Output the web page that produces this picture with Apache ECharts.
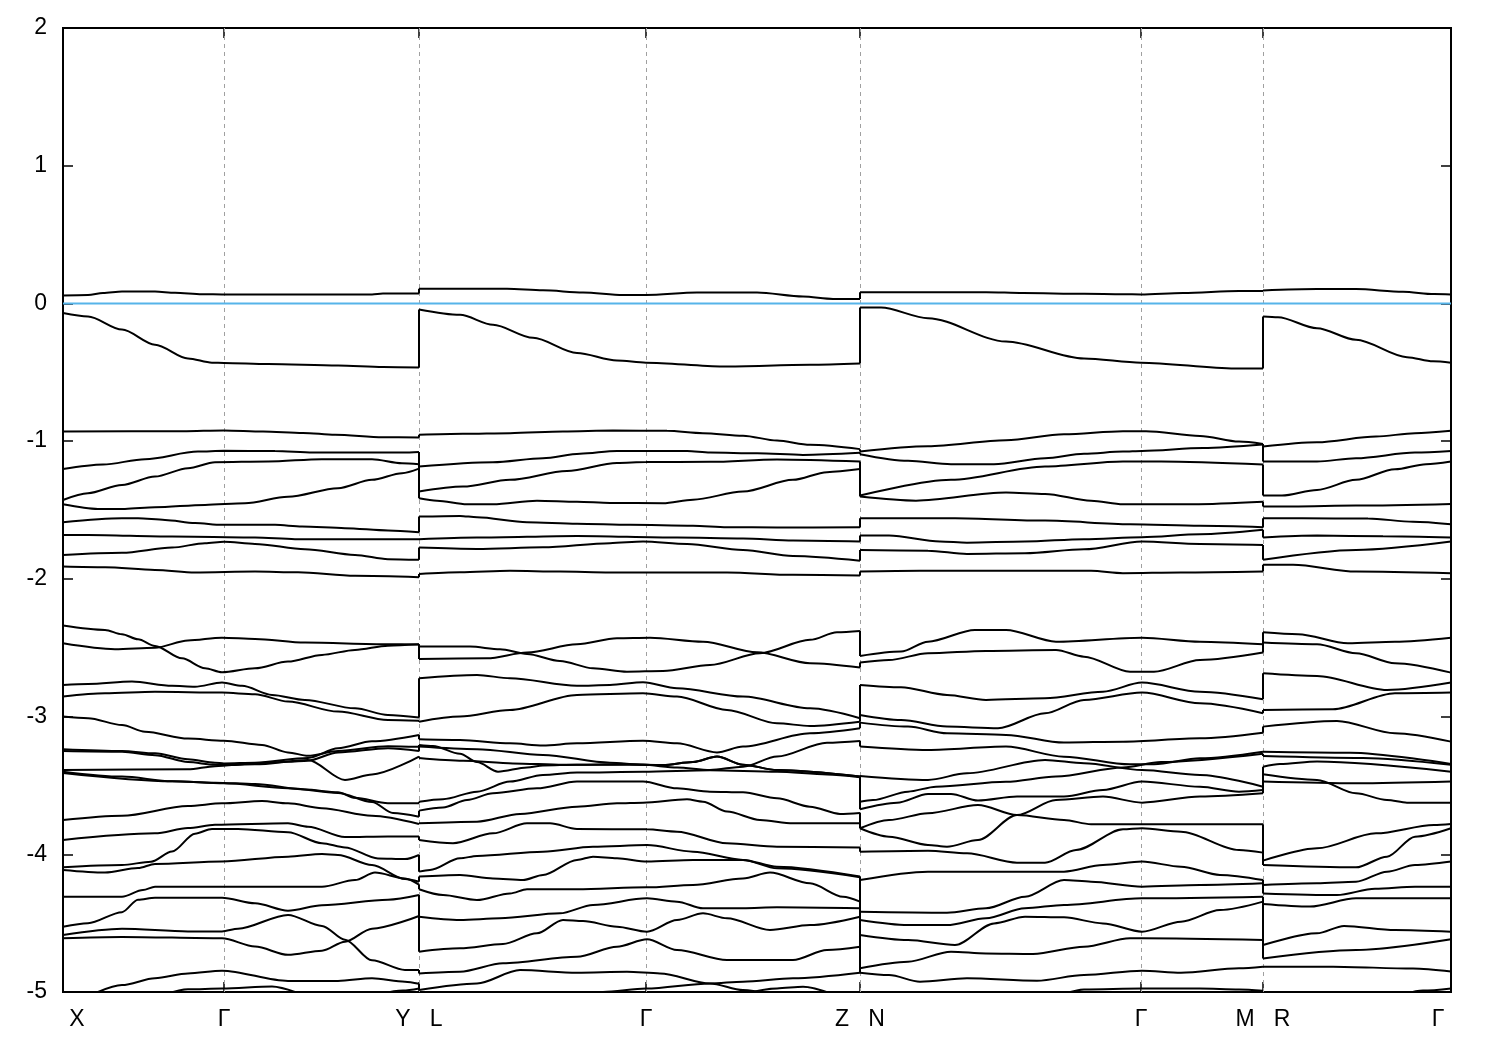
<!DOCTYPE html>
<html>
<head>
<meta charset="utf-8">
<script src="https://cdn.jsdelivr.net/npm/echarts@6/dist/echarts.min.js"></script>
<style>html,body{margin:0;padding:0;background:#fff;}#c{width:1500px;height:1050px;}</style>
</head>
<body>
<div id="c"></div>
<script>
// k-path positions of the high-symmetry points and their labels
const kTicks = [0, 161, 356, 583, 797, 1078, 1200, 1388];
const kLabels = ['X', 'Γ', 'Y   L', 'Γ', 'Z   N', 'Γ', 'M   R', 'Γ'];
const kGridLines = [161, 356, 583, 797, 1078, 1200];
const fermiLine = [[0, 0], [1388, 0]];
const energyTicks = {min: -5, max: 2, step: 1};

// Segment X-Γ-Y : each curve is a list of [k, E(eV)]
const segXGY = [
  [[0,0.058],[25,0.062],[40,0.075],[59,0.086],[92,0.086],[112,0.078],[139,0.067],[161,0.065],[309,0.065],[320,0.072],[356,0.072]],
  [[0,-0.07],[25,-0.095],[59,-0.19],[92,-0.30],[125,-0.40],[149,-0.43],[161,-0.432],[205,-0.44],[275,-0.45],[320,-0.462],[356,-0.466]],
  [[0,-0.93],[120,-0.928],[161,-0.922],[200,-0.93],[240,-0.94],[272,-0.954],[320,-0.972],[356,-0.974]],
  [[0,-1.203],[40,-1.17],[82,-1.131],[135,-1.076],[161,-1.07],[212,-1.072],[250,-1.083],[340,-1.083],[356,-1.078]],
  [[0,-1.427],[25,-1.378],[59,-1.318],[92,-1.257],[125,-1.196],[152,-1.153],[205,-1.148],[259,-1.131],[309,-1.131],[339,-1.16],[356,-1.167]],
  [[0,-1.458],[35,-1.492],[62,-1.492],[92,-1.48],[142,-1.463],[182,-1.451],[225,-1.404],[275,-1.342],[309,-1.281],[339,-1.233],[356,-1.2]],
  [[0,-1.589],[59,-1.56],[75,-1.56],[102,-1.572],[132,-1.594],[159,-1.608],[212,-1.608],[239,-1.62],[282,-1.632],[325,-1.649],[356,-1.661]],
  [[0,-1.681],[25,-1.681],[109,-1.693],[192,-1.70],[232,-1.712],[356,-1.712]],
  [[0,-1.826],[59,-1.81],[109,-1.773],[142,-1.741],[161,-1.73],[192,-1.746],[242,-1.785],[292,-1.826],[325,-1.857],[356,-1.862]],
  [[0,-1.911],[42,-1.916],[92,-1.935],[132,-1.954],[192,-1.947],[235,-1.952],[292,-1.978],[356,-1.988]],
  [[0,-2.339],[42,-2.371],[59,-2.402],[75,-2.439],[92,-2.487],[119,-2.577],[142,-2.649],[159,-2.678],[192,-2.649],[225,-2.601],[259,-2.552],[292,-2.516],[325,-2.485],[356,-2.475]],
  [[0,-2.468],[52,-2.511],[92,-2.50],[125,-2.448],[159,-2.427],[192,-2.436],[242,-2.463],[325,-2.475],[356,-2.476]],
  [[0,-2.770],[25,-2.763],[69,-2.746],[109,-2.777],[132,-2.783],[159,-2.753],[179,-2.777],[209,-2.843],[242,-2.879],[292,-2.94],[325,-2.988],[356,-3.007]],
  [[0,-2.855],[42,-2.831],[92,-2.819],[159,-2.826],[192,-2.838],[225,-2.891],[275,-2.964],[325,-3.025],[356,-3.03]],
  [[0,-3.0],[25,-3.012],[59,-3.061],[82,-3.11],[125,-3.16],[161,-3.175],[199,-3.206],[225,-3.26],[245,-3.285],[275,-3.25],[325,-3.215],[356,-3.22]],
  [[0,-3.237],[59,-3.25],[92,-3.267],[125,-3.31],[152,-3.335],[161,-3.34],[192,-3.335],[245,-3.30],[275,-3.23],[309,-3.18],[356,-3.134]],
  [[0,-3.25],[59,-3.255],[92,-3.28],[125,-3.33],[152,-3.35],[161,-3.352],[192,-3.347],[245,-3.315],[282,-3.46],[309,-3.42],[356,-3.29]],
  [[0,-3.388],[125,-3.383],[152,-3.36],[192,-3.34],[225,-3.328],[245,-3.32],[275,-3.26],[325,-3.23],[356,-3.25]],
  [[0,-3.40],[59,-3.436],[109,-3.47],[152,-3.48],[192,-3.49],[242,-3.53],[275,-3.55],[292,-3.59],[325,-3.63],[356,-3.63]],
  [[0,-3.41],[109,-3.47],[161,-3.485],[225,-3.52],[275,-3.555],[309,-3.62],[330,-3.70],[356,-3.727]],
  [[0,-3.751],[59,-3.72],[125,-3.65],[159,-3.63],[199,-3.613],[225,-3.63],[259,-3.665],[309,-3.72],[356,-3.78]],
  [[0,-3.896],[92,-3.848],[125,-3.81],[152,-3.785],[225,-3.775],[245,-3.80],[282,-3.875],[325,-3.87],[356,-3.87]],
  [[0,-4.094],[59,-4.078],[88,-4.054],[109,-3.98],[132,-3.85],[149,-3.816],[175,-3.816],[225,-3.84],[259,-3.92],[282,-3.95],[315,-4.03],[342,-4.035],[356,-4.005]],
  [[0,-4.114],[42,-4.133],[75,-4.10],[92,-4.07],[159,-4.053],[225,-4.017],[259,-3.998],[275,-4.005],[309,-4.078],[342,-4.18],[356,-4.20]],
  [[0,-4.308],[59,-4.308],[80,-4.26],[92,-4.235],[159,-4.235],[259,-4.235],[292,-4.187],[312,-4.133],[342,-4.175],[356,-4.22]],
  [[0,-4.526],[25,-4.50],[59,-4.42],[75,-4.33],[92,-4.315],[159,-4.315],[192,-4.356],[225,-4.41],[259,-4.37],[325,-4.33],[356,-4.296]],
  [[0,-4.586],[59,-4.54],[125,-4.56],[159,-4.56],[175,-4.54],[225,-4.44],[259,-4.52],[282,-4.62],[309,-4.77],[342,-4.84],[356,-4.84]],
  [[0,-4.61],[59,-4.60],[159,-4.61],[192,-4.67],[225,-4.73],[259,-4.70],[282,-4.635],[309,-4.54],[356,-4.448]],
  [[20,-5.05],[59,-4.95],[92,-4.90],[125,-4.865],[159,-4.845],[225,-4.92],[275,-4.92],[309,-4.90],[342,-4.925],[356,-4.94]],
  [[90,-5.05],[125,-4.98],[159,-4.975],[209,-4.96],[250,-5.05]],
  [[300,-5.05],[340,-4.99],[356,-4.975]]
];

// Segment L-Γ-Z
const segLGZ = [
  [[356,0.106],[444,0.106],[480,0.095],[520,0.08],[560,0.062],[583,0.062],[634,0.079],[694,0.079],[740,0.05],[770,0.033],[797,0.033]],
  [[356,-0.044],[397,-0.083],[430,-0.155],[470,-0.25],[514,-0.36],[554,-0.415],[583,-0.43],[660,-0.458],[747,-0.446],[797,-0.437]],
  [[356,-0.954],[400,-0.947],[447,-0.942],[500,-0.93],[550,-0.923],[604,-0.925],[640,-0.942],[680,-0.96],[714,-0.996],[747,-1.027],[797,-1.058]],
  [[356,-1.184],[430,-1.153],[480,-1.124],[517,-1.092],[554,-1.071],[624,-1.071],[647,-1.083],[694,-1.088],[740,-1.10],[797,-1.085]],
  [[356,-1.366],[400,-1.33],[447,-1.281],[504,-1.217],[554,-1.158],[583,-1.152],[647,-1.15],[714,-1.133],[797,-1.148]],
  [[356,-1.414],[374,-1.432],[404,-1.458],[430,-1.458],[474,-1.432],[514,-1.44],[547,-1.449],[600,-1.451],[630,-1.425],[680,-1.366],[730,-1.281],[764,-1.225],[797,-1.203]],
  [[356,-1.548],[397,-1.543],[414,-1.553],[464,-1.589],[514,-1.60],[567,-1.608],[630,-1.615],[664,-1.625],[714,-1.627],[797,-1.625]],
  [[356,-1.712],[414,-1.70],[514,-1.688],[614,-1.70],[680,-1.707],[730,-1.722],[797,-1.729]],
  [[356,-1.773],[414,-1.783],[480,-1.771],[547,-1.741],[580,-1.729],[624,-1.746],[680,-1.79],[730,-1.834],[797,-1.868]],
  [[356,-1.964],[397,-1.952],[447,-1.942],[497,-1.947],[547,-1.954],[664,-1.954],[730,-1.971],[797,-1.976]],
  [[356,-2.492],[407,-2.492],[437,-2.511],[464,-2.545],[497,-2.596],[530,-2.649],[564,-2.674],[600,-2.669],[647,-2.625],[697,-2.54],[747,-2.443],[774,-2.388],[797,-2.378]],
  [[356,-2.582],[424,-2.577],[464,-2.535],[514,-2.475],[554,-2.431],[587,-2.427],[640,-2.456],[694,-2.533],[747,-2.613],[797,-2.644]],
  [[356,-2.722],[414,-2.698],[447,-2.722],[514,-2.777],[547,-2.77],[580,-2.751],[614,-2.795],[680,-2.855],[747,-2.94],[797,-3.012]],
  [[356,-3.037],[397,-3.0],[447,-2.952],[514,-2.843],[580,-2.831],[614,-2.855],[664,-2.952],[714,-3.049],[747,-3.068],[797,-3.037]],
  [[356,-3.165],[397,-3.17],[447,-3.194],[480,-3.21],[514,-3.194],[580,-3.175],[614,-3.194],[654,-3.26],[680,-3.218],[747,-3.121],[797,-3.085]],
  [[356,-3.206],[370,-3.213],[397,-3.27],[414,-3.33],[435,-3.40],[464,-3.37],[480,-3.355],[514,-3.35],[564,-3.346],[600,-3.352],[630,-3.33],[654,-3.29],[680,-3.35],[714,-3.388],[797,-3.436]],
  [[356,-3.218],[414,-3.237],[480,-3.279],[547,-3.335],[580,-3.35],[614,-3.37],[647,-3.388],[680,-3.364],[714,-3.29],[764,-3.19],[797,-3.177]],
  [[356,-3.30],[400,-3.32],[450,-3.34],[500,-3.35],[564,-3.348],[600,-3.352],[630,-3.33],[654,-3.29],[680,-3.35],[714,-3.388],[797,-3.436]],
  [[356,-3.618],[380,-3.60],[414,-3.545],[447,-3.472],[480,-3.424],[514,-3.407],[580,-3.40],[647,-3.39],[714,-3.40],[764,-3.42],[797,-3.44]],
  [[356,-3.683],[380,-3.66],[404,-3.606],[430,-3.557],[474,-3.521],[514,-3.472],[580,-3.472],[614,-3.521],[647,-3.545],[680,-3.55],[714,-3.594],[747,-3.654],[777,-3.707],[797,-3.70]],
  [[356,-3.775],[414,-3.763],[457,-3.707],[514,-3.654],[554,-3.63],[580,-3.625],[624,-3.601],[640,-3.618],[664,-3.69],[697,-3.751],[730,-3.775],[797,-3.775]],
  [[356,-3.896],[390,-3.92],[430,-3.848],[464,-3.775],[487,-3.775],[514,-3.816],[584,-3.819],[614,-3.836],[664,-3.92],[714,-3.945],[797,-3.95]],
  [[356,-4.126],[367,-4.114],[397,-4.029],[414,-4.012],[480,-3.981],[530,-3.945],[584,-3.933],[630,-3.981],[680,-4.041],[714,-4.09],[797,-4.162]],
  [[356,-4.162],[397,-4.15],[430,-4.175],[460,-4.187],[480,-4.15],[514,-4.041],[530,-4.017],[554,-4.029],[584,-4.053],[630,-4.041],[680,-4.041],[714,-4.102],[797,-4.167]],
  [[356,-4.254],[380,-4.296],[414,-4.332],[447,-4.284],[464,-4.254],[514,-4.254],[584,-4.24],[630,-4.223],[680,-4.175],[707,-4.133],[747,-4.211],[780,-4.308],[797,-4.344]],
  [[356,-4.453],[397,-4.477],[437,-4.465],[497,-4.429],[530,-4.368],[584,-4.32],[614,-4.344],[640,-4.392],[680,-4.392],[714,-4.385],[797,-4.392]],
  [[356,-4.707],[397,-4.683],[440,-4.652],[474,-4.574],[500,-4.477],[520,-4.485],[554,-4.526],[584,-4.562],[614,-4.477],[640,-4.429],[664,-4.465],[707,-4.55],[747,-4.514],[797,-4.453]],
  [[356,-4.865],[397,-4.853],[440,-4.792],[514,-4.744],[554,-4.671],[584,-4.617],[614,-4.695],[664,-4.768],[730,-4.768],[764,-4.695],[797,-4.671]],
  [[356,-4.986],[414,-4.938],[457,-4.841],[514,-4.86],[564,-4.853],[597,-4.865],[647,-4.938],[680,-4.986],[714,-5.03]],
  [[500,-5.03],[540,-5.0],[583,-4.975],[647,-4.938],[680,-4.925],[730,-4.90],[797,-4.86]],
  [[670,-5.03],[714,-4.974],[740,-4.962],[775,-5.03]]
];

// Segment N-Γ-M
const segNGM = [
  [[797,0.082],[923,0.082],[960,0.075],[1021,0.07],[1060,0.067],[1078,0.065],[1120,0.075],[1176,0.09],[1200,0.09]],
  [[797,-0.03],[818,-0.03],[865,-0.107],[943,-0.277],[1021,-0.40],[1078,-0.43],[1172,-0.473],[1200,-0.473]],
  [[797,-1.076],[865,-1.037],[943,-0.993],[1001,-0.95],[1060,-0.928],[1083,-0.928],[1137,-0.962],[1176,-1.003],[1200,-1.02]],
  [[797,-1.095],[845,-1.143],[888,-1.167],[931,-1.167],[982,-1.124],[1021,-1.092],[1060,-1.076],[1079,-1.071],[1140,-1.05],[1200,-1.025]],
  [[797,-1.395],[888,-1.281],[982,-1.184],[1060,-1.148],[1098,-1.148],[1200,-1.17]],
  [[797,-1.402],[853,-1.432],[943,-1.373],[982,-1.383],[1028,-1.432],[1060,-1.458],[1130,-1.458],[1200,-1.44]],
  [[797,-1.56],[892,-1.56],[982,-1.577],[1067,-1.603],[1137,-1.615],[1200,-1.625]],
  [[797,-1.686],[826,-1.686],[877,-1.729],[904,-1.737],[962,-1.729],[1021,-1.712],[1079,-1.697],[1137,-1.676],[1200,-1.644]],
  [[797,-1.79],[865,-1.795],[904,-1.819],[962,-1.814],[1021,-1.785],[1079,-1.729],[1137,-1.746],[1200,-1.754]],
  [[797,-1.947],[857,-1.942],[1028,-1.942],[1060,-1.959],[1118,-1.954],[1200,-1.947]],
  [[797,-2.56],[838,-2.528],[865,-2.456],[912,-2.371],[943,-2.371],[993,-2.456],[1079,-2.427],[1137,-2.456],[1200,-2.475]],
  [[797,-2.608],[826,-2.589],[865,-2.54],[923,-2.523],[993,-2.516],[1021,-2.565],[1067,-2.674],[1091,-2.674],[1137,-2.589],[1200,-2.535]],
  [[797,-2.77],[838,-2.787],[884,-2.843],[923,-2.879],[982,-2.867],[1040,-2.819],[1079,-2.753],[1137,-2.82],[1200,-2.874]],
  [[797,-2.988],[838,-3.025],[884,-3.073],[935,-3.085],[982,-2.976],[1021,-2.879],[1079,-2.826],[1137,-2.904],[1200,-2.976]],
  [[797,-3.044],[845,-3.073],[884,-3.121],[943,-3.133],[1001,-3.189],[1060,-3.182],[1137,-3.158],[1200,-3.117]],
  [[797,-3.218],[865,-3.243],[943,-3.218],[1001,-3.291],[1067,-3.347],[1091,-3.347],[1137,-3.303],[1200,-3.255]],
  [[797,-3.431],[865,-3.46],[904,-3.412],[982,-3.315],[1021,-3.339],[1079,-3.388],[1137,-3.424],[1200,-3.509]],
  [[797,-3.618],[810,-3.606],[845,-3.545],[873,-3.509],[943,-3.473],[993,-3.436],[1060,-3.37],[1098,-3.33],[1200,-3.27]],
  [[797,-3.673],[834,-3.625],[865,-3.562],[888,-3.562],[915,-3.61],[954,-3.581],[1001,-3.581],[1040,-3.533],[1079,-3.472],[1137,-3.509],[1176,-3.545],[1200,-3.533]],
  [[797,-3.811],[826,-3.751],[865,-3.702],[915,-3.642],[954,-3.715],[1001,-3.751],[1028,-3.782],[1079,-3.782],[1200,-3.782]],
  [[797,-3.811],[826,-3.872],[865,-3.932],[884,-3.945],[915,-3.896],[954,-3.715],[993,-3.606],[1040,-3.581],[1079,-3.625],[1137,-3.581],[1200,-3.557]],
  [[797,-3.981],[865,-3.974],[904,-3.993],[954,-4.061],[982,-4.061],[1013,-3.969],[1060,-3.819],[1079,-3.811],[1118,-3.836],[1176,-3.969],[1200,-3.988]],
  [[797,-4.187],[865,-4.126],[923,-4.126],[1001,-4.126],[1040,-4.078],[1079,-4.053],[1118,-4.09],[1157,-4.15],[1200,-4.187]],
  [[797,-4.417],[884,-4.424],[923,-4.392],[962,-4.308],[1001,-4.187],[1028,-4.199],[1079,-4.235],[1137,-4.223],[1200,-4.211]],
  [[797,-4.477],[845,-4.514],[884,-4.514],[923,-4.465],[962,-4.392],[1001,-4.368],[1079,-4.32],[1200,-4.308]],
  [[797,-4.586],[845,-4.623],[892,-4.659],[931,-4.502],[962,-4.453],[1001,-4.458],[1040,-4.502],[1079,-4.562],[1118,-4.489],[1157,-4.405],[1200,-4.344]],
  [[797,-4.828],[845,-4.78],[888,-4.707],[923,-4.72],[970,-4.724],[1021,-4.671],[1067,-4.61],[1079,-4.61],[1200,-4.623]],
  [[797,-4.86],[826,-4.877],[857,-4.925],[904,-4.901],[974,-4.918],[1021,-4.877],[1079,-4.845],[1118,-4.86],[1176,-4.828],[1200,-4.816]],
  [[995,-5.03],[1021,-4.981],[1079,-4.974],[1137,-4.974],[1176,-4.981],[1200,-4.99]]
];

// Segment R-Γ
const segRG = [
  [[1200,0.094],[1254,0.104],[1293,0.104],[1340,0.085],[1371,0.068],[1388,0.065]],
  [[1200,-0.095],[1215,-0.10],[1254,-0.18],[1293,-0.264],[1344,-0.39],[1370,-0.42],[1388,-0.43]],
  [[1200,-1.039],[1254,-1.008],[1313,-0.967],[1352,-0.942],[1388,-0.925]],
  [[1200,-1.148],[1254,-1.148],[1293,-1.124],[1352,-1.083],[1388,-1.071]],
  [[1200,-1.395],[1219,-1.395],[1254,-1.354],[1293,-1.281],[1332,-1.204],[1363,-1.167],[1388,-1.148]],
  [[1200,-1.475],[1230,-1.475],[1293,-1.468],[1388,-1.456]],
  [[1200,-1.56],[1239,-1.56],[1305,-1.562],[1350,-1.585],[1388,-1.603]],
  [[1200,-1.70],[1254,-1.686],[1320,-1.69],[1388,-1.70]],
  [[1200,-1.862],[1293,-1.79],[1388,-1.729]],
  [[1200,-1.898],[1230,-1.898],[1293,-1.947],[1388,-1.959]],
  [[1200,-2.388],[1235,-2.402],[1285,-2.468],[1332,-2.456],[1388,-2.427]],
  [[1200,-2.463],[1254,-2.475],[1293,-2.54],[1332,-2.613],[1388,-2.681]],
  [[1200,-2.686],[1254,-2.705],[1324,-2.807],[1388,-2.753]],
  [[1200,-2.952],[1270,-2.947],[1332,-2.831],[1388,-2.826]],
  [[1200,-3.073],[1274,-3.032],[1332,-3.121],[1388,-3.182]],
  [[1200,-3.255],[1287,-3.262],[1388,-3.344]],
  [[1200,-3.286],[1300,-3.30],[1388,-3.35]],
  [[1200,-3.364],[1217,-3.345],[1254,-3.327],[1388,-3.40]],
  [[1200,-3.419],[1254,-3.46],[1293,-3.557],[1324,-3.606],[1344,-3.625],[1388,-3.625]],
  [[1200,-3.472],[1293,-3.485],[1388,-3.472]],
  [[1200,-4.046],[1254,-3.957],[1313,-3.848],[1371,-3.787],[1388,-3.78]],
  [[1200,-4.078],[1293,-4.095],[1324,-4.017],[1352,-3.872],[1388,-3.811]],
  [[1200,-4.223],[1254,-4.211],[1293,-4.199],[1324,-4.126],[1352,-4.078],[1388,-4.053]],
  [[1200,-4.284],[1274,-4.296],[1312,-4.25],[1352,-4.235],[1388,-4.235]],
  [[1200,-4.361],[1247,-4.38],[1293,-4.32],[1388,-4.32]],
  [[1200,-4.659],[1254,-4.574],[1281,-4.52],[1332,-4.55],[1388,-4.562]],
  [[1200,-4.756],[1293,-4.695],[1388,-4.617]],
  [[1200,-4.816],[1270,-4.816],[1350,-4.83],[1388,-4.852]],
  [[1335,-5.03],[1360,-4.99],[1388,-4.974]]
];

const segments = [segXGY, segLGZ, segNGM, segRG];

// join curves of consecutive segments by energy order at each shared boundary
const connectors = [];
let open = segXGY.slice();
for (let s = 1; s < segments.length; s++) {
  const seg = segments[s];
  const kb = seg[0][0][0];
  const ends = open.filter(c => c[c.length - 1][0] === kb)
                   .sort((a, b) => b[b.length - 1][1] - a[a.length - 1][1]);
  const starts = seg.filter(c => c[0][0] === kb).sort((a, b) => b[0][1] - a[0][1]);
  starts.forEach((c, i) => {
    if (i < ends.length) {
      const e = ends[i][ends[i].length - 1][1];
      if (e !== c[0][1]) connectors.push([[kb, e], [kb, c[0][1]]]);
    }
  });
  open = seg.slice();
}

const lineBase = {type: 'line', showSymbol: false, symbol: 'none', clip: true, silent: true, animation: false};
const series = [];
series.push(Object.assign({}, lineBase, {
  data: fermiLine, z: 1, lineStyle: {color: '#56B4E9', width: 2},
  markLine: {
    silent: true, symbol: ['none', 'none'], label: {show: false}, animation: false, z: 1,
    lineStyle: {color: '#a0a0a0', type: [4, 4], width: 1},
    data: kGridLines.map(k => ({xAxis: k}))
  }
}));
segments.forEach(seg => seg.forEach(c => series.push(Object.assign({}, lineBase, {
  data: c, z: 3, smooth: 0.3, smoothMonotone: 'x', lineStyle: {color: '#000', width: 2}
}))));
connectors.forEach(c => series.push(Object.assign({}, lineBase, {
  data: c, z: 4, lineStyle: {color: '#000', width: 2}
})));

const tickStyle = {show: true, inside: true, length: 10, customValues: kTicks, lineStyle: {color: '#000', width: 1.5}};
const font = 'Liberation Sans, Arial, sans-serif';
const fs = 23;
const chart = echarts.init(document.getElementById('c'), null, {renderer: 'canvas'});
chart.setOption({
  backgroundColor: '#fff',
  animation: false,
  grid: {left: 63, top: 28, width: 1388, height: 964, show: true, borderColor: '#000', borderWidth: 2, backgroundColor: 'transparent', containLabel: false},
  xAxis: [{
    type: 'value', min: kTicks[0], max: kTicks[kTicks.length - 1], position: 'bottom',
    axisLine: {show: false, onZero: false}, splitLine: {show: false},
    axisTick: tickStyle,
    axisLabel: {
      customValues: kTicks, margin: 16, color: '#000', fontSize: fs, fontFamily: font,
      formatter: (v) => {
        const i = kTicks.indexOf(v);
        const t = i >= 0 ? kLabels[i] : '';
        if (i === 0) return '{first|' + t + '}';
        if (i === kTicks.length - 1) return '{last|' + t + '}';
        return t;
      },
      rich: {
        first: {fontSize: fs, color: '#000', fontFamily: font, padding: [0, 0, 0, 28]},
        last: {fontSize: fs, color: '#000', fontFamily: font, padding: [0, 26, 0, 0]}
      }
    }
  }, {
    type: 'value', min: kTicks[0], max: kTicks[kTicks.length - 1], position: 'top',
    axisLine: {show: false, onZero: false}, splitLine: {show: false}, axisTick: tickStyle, axisLabel: {show: false}
  }],
  yAxis: [{
    type: 'value', min: energyTicks.min, max: energyTicks.max, interval: energyTicks.step,
    axisLine: {show: false, onZero: false}, splitLine: {show: false},
    axisTick: {show: true, inside: true, length: 10, lineStyle: {color: '#000', width: 1.5}},
    axisLabel: {color: '#000', fontSize: fs, margin: 16, fontFamily: font}
  }, {
    type: 'value', min: energyTicks.min, max: energyTicks.max, interval: energyTicks.step, position: 'right',
    axisLine: {show: false, onZero: false}, splitLine: {show: false},
    axisTick: {show: true, inside: true, length: 10, lineStyle: {color: '#000', width: 1.5}},
    axisLabel: {show: false}
  }],
  series: series
});
</script>
</body>
</html>
